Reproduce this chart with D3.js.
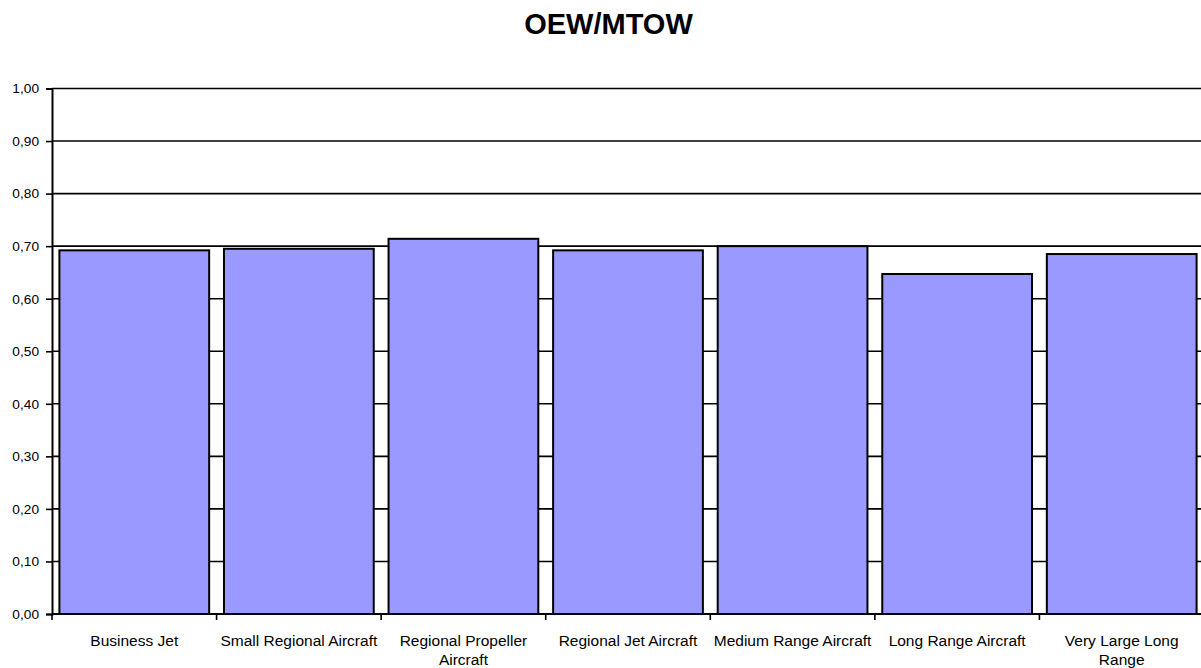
<!DOCTYPE html>
<html>
<head>
<meta charset="utf-8">
<script src="https://cdn.jsdelivr.net/npm/d3@7/dist/d3.min.js"></script>
<style>
  html, body { margin: 0; padding: 0; background: #fff; }
  svg { display: block; }
  text { font-family: "Liberation Sans", Arial, sans-serif; fill: #000; }
</style>
</head>
<body>
<svg id="chart" width="1201" height="668"></svg>
<script>
const title = "OEW/MTOW";
const categories = ["Business Jet", "Small Regional Aircraft", "Regional Propeller Aircraft",
  "Regional Jet Aircraft", "Medium Range Aircraft", "Long Range Aircraft", "Very Large Long Range"];
const values = [0.692, 0.695, 0.714, 0.692, 0.700, 0.647, 0.685];
const yTicks = [0, 0.1, 0.2, 0.3, 0.4, 0.5, 0.6, 0.7, 0.8, 0.9, 1.0];

const svg = d3.select("#chart");
const mLeft = 52, mRight = 1204, mTop = 88.5, mBottom = 614;

const x = d3.scaleBand().domain(categories).range([mLeft, mRight])
  .paddingInner(0.09).paddingOuter(0.045);
const y = d3.scaleLinear().domain([0, 1]).range([mBottom, mTop]);
const fmt = v => d3.format(".2f")(v).replace(".", ",");

// title
svg.append("text").attr("x", 608.5).attr("y", 34).attr("text-anchor", "middle")
  .attr("font-size", 29).attr("font-weight", "bold").text(title);

// gridlines
svg.append("g").selectAll("line").data(yTicks.filter(d => d > 0)).join("line")
  .attr("x1", mLeft).attr("x2", mRight)
  .attr("y1", d => y(d)).attr("y2", d => y(d))
  .attr("stroke", "#000").attr("stroke-width", 1.6);

// bars
svg.append("g").selectAll("rect").data(categories).join("rect")
  .attr("x", d => x(d)).attr("width", x.bandwidth())
  .attr("y", (d, i) => y(values[i])).attr("height", (d, i) => y(0) - y(values[i]))
  .attr("fill", "#9999FF").attr("stroke", "#000").attr("stroke-width", 2);

// y axis
const yAxis = svg.append("g").attr("transform", `translate(${mLeft},0)`)
  .call(d3.axisLeft(y).tickValues(yTicks).tickFormat(fmt).tickSize(6).tickPadding(7));
yAxis.select(".domain").attr("stroke", "#000").attr("stroke-width", 2);
yAxis.selectAll(".tick line").attr("stroke", "#000").attr("stroke-width", 1.6);
yAxis.selectAll("text").attr("font-size", 13.7).attr("font-family", "Liberation Sans, Arial, sans-serif");

// x axis
const boundaries = d3.range(categories.length + 1).map(i => mLeft + i * x.step());
const xg = svg.append("g");
xg.append("line").attr("x1", mLeft).attr("x2", mRight).attr("y1", mBottom).attr("y2", mBottom)
  .attr("stroke", "#000").attr("stroke-width", 2);
xg.selectAll("line.t").data(boundaries).join("line").attr("class", "t")
  .attr("x1", d => d).attr("x2", d => d).attr("y1", mBottom).attr("y2", mBottom + 6)
  .attr("stroke", "#000").attr("stroke-width", 1.6);

// category labels (wrapped)
function wrapLines(text, maxW, ctx) {
  const words = text.split(" ");
  const lines = [];
  let cur = "";
  words.forEach(w => {
    const test = cur ? cur + " " + w : w;
    if (ctx.measureText(test).width > maxW && cur) { lines.push(cur); cur = w; }
    else cur = test;
  });
  if (cur) lines.push(cur);
  return lines;
}
const ctx = document.createElement("canvas").getContext("2d");
ctx.font = "15.5px 'Liberation Sans', Arial, sans-serif";
categories.forEach(c => {
  const lines = wrapLines(c, x.step() - 6, ctx);
  const t = svg.append("text").attr("text-anchor", "middle").attr("font-size", 15.5)
    .attr("x", x(c) + x.bandwidth() / 2).attr("y", 646);
  lines.forEach((l, i) => t.append("tspan").attr("x", x(c) + x.bandwidth() / 2)
    .attr("dy", i === 0 ? 0 : 18.5).text(l));
});
</script>
</body>
</html>
